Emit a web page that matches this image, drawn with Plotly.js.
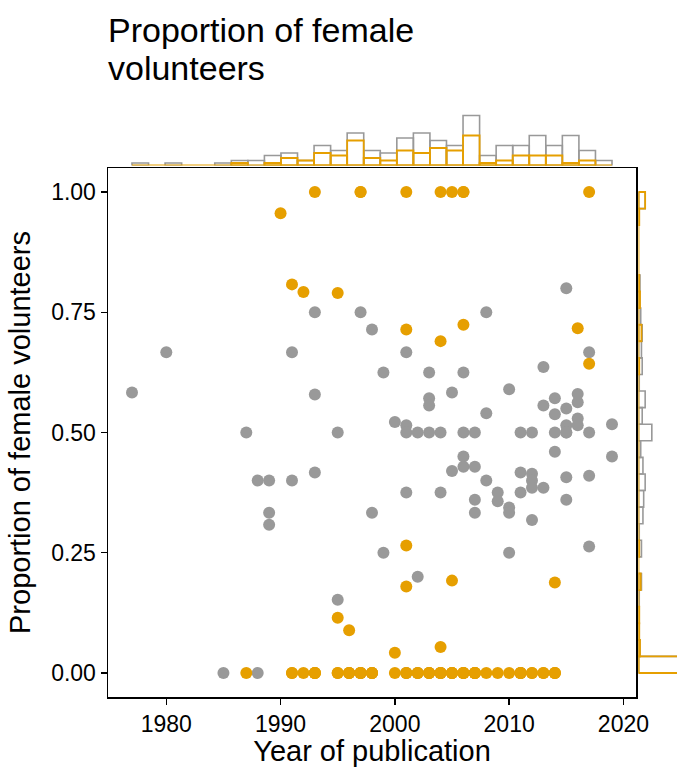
<!DOCTYPE html>
<html>
<head>
<meta charset="utf-8">
<script src="https://cdn.plot.ly/plotly-3.0.1.min.js"></script>
<style>html,body{margin:0;padding:0;background:#fff;}#chart{width:677px;height:767px;}</style>
</head>
<body>
<div id="chart"></div>
<script>
// Grey group (mixed-sex samples)
const grayYear = [1977,1980,1985,1987,1988,1988,1989,1989,1989,1991,1991,1993,1993,1993,1995,1995,1996,1997,1997,1998,1998,1998,1999,1999,2000,
  2001,2001,2001,2001,2001,2002,2002,2002,2003,2003,2003,2003,2003,2004,2004,2004,2005,2005,2006,2006,2006,2006,2007,2007,2007,2007,
  2008,2008,2008,2009,2009,2010,2010,2010,2010,2011,2011,2011,2011,2012,2012,2012,2012,2012,2013,2013,2013,2014,2014,2014,2014,
  2015,2015,2015,2015,2015,2015,2015,2016,2016,2016,2016,2017,2017,2017,2017,2019,2019];
const grayProp = [0.583,0.667,0,0.5,0.4,0,0.4,0.333,0.308,0.667,0.4,0.75,0.579,0.417,0.5,0.152,0,0.75,0,0.714,0.333,0,0.625,0.25,0.522,
  0.667,0.515,0.5,0.375,0,0.5,0.2,0,0.625,0.571,0.556,0.5,0,0.5,0.375,0,0.583,0.42,0.625,0.5,0.45,0.429,0.5,0.429,0.36,0.333,
  0.75,0.54,0.4,0.375,0.357,0.59,0.344,0.333,0.25,0.5,0.417,0.375,0,0.5,0.414,0.4,0.385,0.318,0.636,0.556,0.385,0.571,0.538,0.5,0.46,
  0.8,0.55,0.515,0.5,0.5,0.407,0.36,0.58,0.563,0.529,0.515,0.667,0.5,0.41,0.263,0.517,0.45];

// Orange group
const orangeYear = [1987,1990,1991,1991,1991,1992,1992,1993,1993,1993,1993,1993,1995,1995,1995,1995,1996,1996,1996,1996,
  1997,1997,1997,1997,1997,1997,1998,1998,1998,2000,2000,2001,2001,2001,2001,2001,2001,2002,2002,2003,2003,2003,
  2004,2004,2004,2004,2004,2004,2004,2005,2005,2005,2005,2005,2005,2006,2006,2006,2006,2006,2006,2006,
  2007,2007,2007,2007,2007,2008,2009,2010,2011,2011,2011,2011,2012,2012,2013,2013,2014,2014,2014,2014,2016,2017,2017];
const orangeProp = [0,0.956,0.808,0,0,0.792,0,1,0,0,0,0,0.79,0.115,0,0,0.089,0,0,0,
  1,1,0,0,0,0,0,0,0,0.042,0,1,0.714,0.265,0.18,0,0,0,0,0,0,0,
  1,0.69,0.054,0,0,0,0,1,0.192,0,0,0,0,1,1,0.724,0,0,0,0,
  0,0,0,0,0,0,0,0,0,0,0,0,0,0,0,0,0.188,0,0,0,0.717,1,0.643];

const xTickVals = [1980,1990,2000,2010,2020];
const yTickVals = [0,0.25,0.5,0.75,1];
const yTickText = ['0.00','0.25','0.50','0.75','1.00'];
const titleLines = ['Proportion of female', 'volunteers'];

const ORANGE = '#E69F00', GRAY = '#999999';
const FONT = 'Liberation Sans, Arial, Helvetica, sans-serif';
const W = 677, H = 767;

// marginal distributions: grey outline = all studies, orange outline = orange group (drawn on top)
const allYears = grayYear.concat(orangeYear);
const allProp = grayProp.concat(orangeProp);
const yMin = Math.min(...allYears), yMax = Math.max(...allYears);
const xbins = {start: yMin - 0.001, end: yMax + 0.001, size: (yMax - yMin + 0.002) / 29};
const ybins = {start: -0.0001, end: 1.0001, size: 1.0002 / 29};

const histStyle = (c, w) => ({color: 'rgba(255,255,255,0)', line: {color: c, width: w}});

const traces = [
  {type: 'scatter', mode: 'markers', x: grayYear, y: grayProp, xaxis: 'x', yaxis: 'y',
   marker: {color: GRAY, size: 12}, hoverinfo: 'x+y', cliponaxis: false},
  {type: 'scatter', mode: 'markers', x: orangeYear, y: orangeProp, xaxis: 'x', yaxis: 'y',
   marker: {color: ORANGE, size: 12}, hoverinfo: 'x+y', cliponaxis: false},
  {type: 'histogram', x: allYears, xbins: xbins, autobinx: false, xaxis: 'x2', yaxis: 'y2',
   marker: histStyle(GRAY, 1.6)},
  {type: 'histogram', x: orangeYear, xbins: xbins, autobinx: false, xaxis: 'x2', yaxis: 'y2',
   marker: histStyle(ORANGE, 1.8)},
  {type: 'histogram', y: allProp, ybins: ybins, autobiny: false, orientation: 'h', xaxis: 'x3', yaxis: 'y3',
   marker: histStyle(GRAY, 1.6)},
  {type: 'histogram', y: orangeProp, ybins: ybins, autobiny: false, orientation: 'h', xaxis: 'x3', yaxis: 'y3',
   marker: histStyle(ORANGE, 1.8)}
];

const mainX = [108 / W, 636 / W];
const mainY = [1 - 697 / H, 1 - 168 / H];
const xr = [1974.9, 2021.1], yr = [-0.05, 1.05];

const layout = {
  width: W, height: H,
  margin: {l: 0, r: 0, t: 0, b: 0},
  paper_bgcolor: '#fff', plot_bgcolor: 'rgba(0,0,0,0)',
  showlegend: false,
  barmode: 'overlay', bargap: 0,
  font: {family: FONT, color: '#000'},
  annotations: [
    {text: titleLines[0], xref: 'paper', yref: 'paper', x: 106 / W, y: 1 - 9 / H, xanchor: 'left', yanchor: 'top',
     showarrow: false, font: {size: 34, family: FONT, color: '#000'}},
    {text: titleLines[1], xref: 'paper', yref: 'paper', x: 106 / W, y: 1 - 47 / H, xanchor: 'left', yanchor: 'top',
     showarrow: false, font: {size: 34, family: FONT, color: '#000'}}
  ],
  shapes: [
    {type: 'line', xref: 'x2', yref: 'y2', x0: xbins.start, x1: xbins.end, y0: 0, y1: 0,
     line: {color: ORANGE, width: 1.8}},
    {type: 'line', xref: 'x3', yref: 'y3', x0: 0, x1: 0, y0: ybins.start, y1: ybins.end,
     line: {color: ORANGE, width: 1.8}}
  ],
  xaxis: {domain: mainX, range: xr, tickvals: xTickVals, ticks: 'outside', ticklen: 6, tickwidth: 1.3,
          tickcolor: '#000', showline: true, linecolor: '#000', linewidth: 1.5, mirror: true,
          showgrid: false, zeroline: false, tickfont: {size: 23}, automargin: false,
          title: {text: 'Year of publication', font: {size: 29}, standoff: 6}},
  yaxis: {domain: mainY, range: yr, tickvals: yTickVals, ticktext: yTickText, ticks: 'outside', ticklen: 6,
          tickwidth: 1.3, tickcolor: '#000', showline: true, linecolor: '#000', linewidth: 1.5, mirror: true,
          showgrid: false, zeroline: false, tickfont: {size: 23}, automargin: false,
          title: {text: 'Proportion of female volunteers', font: {size: 29}, standoff: 12}},
  xaxis2: {domain: mainX, range: xr, anchor: 'y2', visible: false, fixedrange: true},
  yaxis2: {domain: [1 - 165.5 / H, 1 - 113 / H], range: [0, 21], anchor: 'x2', visible: false},
  xaxis3: {domain: [638.5 / W, 1], range: [0, 52], anchor: 'y3', visible: false},
  yaxis3: {domain: mainY, range: yr, anchor: 'x3', visible: false}
};

Plotly.newPlot('chart', traces, layout, {displayModeBar: false, staticPlot: true});
</script>
</body>
</html>
